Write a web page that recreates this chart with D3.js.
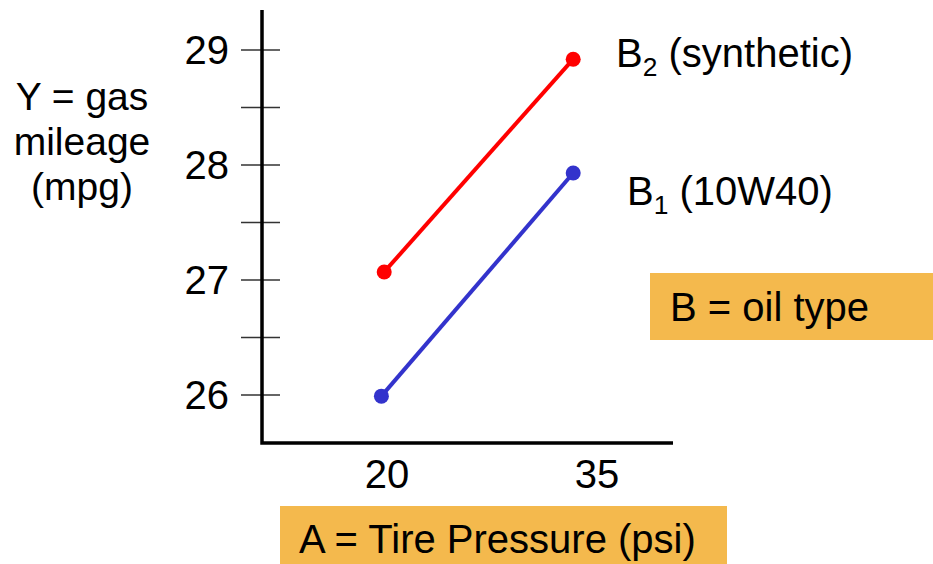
<!DOCTYPE html>
<html><head><meta charset="utf-8">
<script src="https://cdn.jsdelivr.net/npm/d3@7"></script>
<style>html,body{margin:0;padding:0;background:#fff;}svg{display:block;font-family:Arial,"Liberation Sans",sans-serif;}</style>
</head><body>
<svg id="chart" width="933" height="564"></svg>
<script>
// Data
const pressureTicks = [20, 35];
const mpgTicks = [26, 27, 28, 29];
const mpgMinorTicks = [26.5, 27.5, 28.5];
const seriesNames = ["B1", "B2"];
const b1Pressure = [19.6, 33.3];
const b1Mpg = [25.99, 27.93];
const b2Pressure = [19.8, 33.3];
const b2Mpg = [27.07, 28.92];
const seriesColors = ["#3333cc", "#ff0000"];

const svg = d3.select("#chart");
const FONT = 40;

const x = d3.scaleLinear().domain([20, 35]).range([387, 597]);
const y = d3.scaleLinear().domain([26, 29]).range([395, 50]);
const axisX = 262, axisTop = 10, axisBottom = 443, axisRight = 673;

// Boxes
svg.append("rect").attr("x", 280).attr("y", 506).attr("width", 447).attr("height", 58).attr("fill", "#F4B94D");
svg.append("rect").attr("x", 650).attr("y", 273).attr("width", 283).attr("height", 67).attr("fill", "#F4B94D");

// Ticks (crossing the axis)
const allTicks = mpgTicks.concat(mpgMinorTicks);
svg.append("g").selectAll("line").data(allTicks).join("line")
  .attr("x1", axisX - 21).attr("x2", axisX + 18)
  .attr("y1", d => y(d)).attr("y2", d => y(d))
  .attr("stroke", "#333").attr("stroke-width", 1.5);

// Axis lines
svg.append("path")
  .attr("d", `M${axisX},${axisTop}V${axisBottom}H${axisRight}`)
  .attr("fill", "none").attr("stroke", "#000").attr("stroke-width", 3.5);

// Y tick labels
svg.append("g").selectAll("text").data(mpgTicks).join("text")
  .attr("x", 229).attr("y", d => y(d)).attr("dy", "0.36em")
  .attr("text-anchor", "end").attr("font-size", FONT).text(d => d);

// X tick labels
svg.append("g").selectAll("text").data(pressureTicks).join("text")
  .attr("x", d => x(d)).attr("y", 488)
  .attr("text-anchor", "middle").attr("font-size", FONT).text(d => d);

// Series
const series = [
  {name: seriesNames[0], px: b1Pressure, mpg: b1Mpg, color: seriesColors[0]},
  {name: seriesNames[1], px: b2Pressure, mpg: b2Mpg, color: seriesColors[1]}
];
const line = d3.line().x(d => x(d[0])).y(d => y(d[1]));
series.forEach(s => {
  const pts = s.px.map((p, i) => [p, s.mpg[i]]);
  svg.append("path").attr("d", line(pts)).attr("fill", "none")
    .attr("stroke", s.color).attr("stroke-width", 4);
  svg.append("g").selectAll("circle").data(pts).join("circle")
    .attr("cx", d => x(d[0])).attr("cy", d => y(d[1])).attr("r", 7.5)
    .attr("fill", s.color);
});

// Series labels
function subLabel(xp, yp, sub, rest) {
  const t = svg.append("text").attr("x", xp).attr("y", yp).attr("font-size", FONT);
  t.append("tspan").text("B");
  t.append("tspan").attr("font-size", FONT * 0.66).attr("dy", 9).text(sub);
  t.append("tspan").attr("dy", -9).text(" " + rest);
}
subLabel(616, 67, "2", "(synthetic)");
subLabel(627, 205, "1", "(10W40)");

// Titles
svg.append("text").attr("x", 299).attr("y", 553).attr("font-size", FONT).text("A = Tire Pressure (psi)");
svg.append("text").attr("x", 670).attr("y", 321).attr("font-size", FONT).text("B = oil type");
const yt = svg.append("text").attr("text-anchor", "middle").attr("font-size", 39);
["Y = gas", "mileage", "(mpg)"].forEach((l, i) => {
  yt.append("tspan").attr("x", 82).attr("y", 110 + i * 45).text(l);
});
</script>
</body></html>
